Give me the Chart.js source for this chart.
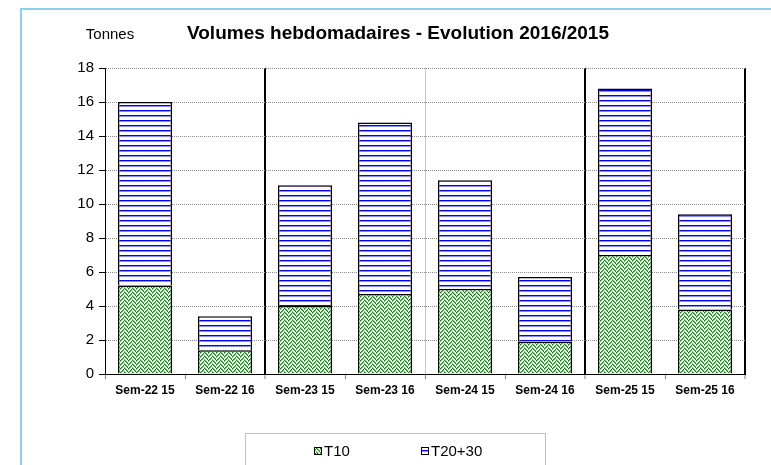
<!DOCTYPE html>
<html>
<head>
<meta charset="utf-8">
<script src="https://cdn.jsdelivr.net/npm/chart.js@4.4.1/dist/chart.umd.min.js"></script>
<style>
html, body { margin: 0; padding: 0; background: #fff; }
#wrap { width: 771px; height: 465px; }
</style>
</head>
<body>
<div id="wrap"><canvas id="volumes" width="771" height="465"></canvas></div>
<script>
// données
const semaines = ['Sem-22 15', 'Sem-22 16', 'Sem-23 15', 'Sem-23 16', 'Sem-24 15', 'Sem-24 16', 'Sem-25 15', 'Sem-25 16'];
const t10 = [5.2, 1.4, 4.0, 4.7, 5.0, 1.9, 7.0, 3.8];
const t2030 = [10.8, 2.0, 7.1, 10.1, 6.4, 3.8, 9.8, 5.6];
const yTicks = [0, 2, 4, 6, 8, 10, 12, 14, 16, 18];

const police = "'Liberation Sans', Arial, sans-serif";

// motif vert (chevrons)
function motifVert() {
    const c = document.createElement('canvas');
    c.width = 8; c.height = 8;
    const g = c.getContext('2d');
    g.fillStyle = '#ffffff';
    g.fillRect(0, 0, 8, 8);
    for (let y = 0; y < 8; y++) {
        for (let x = 0; x < 8; x++) {
            const k = x < 4 ? (x + y) % 4 : ((x - y) % 4 + 4) % 4;
            if (k === 0) { g.fillStyle = '#008f00'; g.fillRect(x, y, 1, 1); }
            else if (k === 1) { g.fillStyle = '#66c466'; g.fillRect(x, y, 1, 1); }
        }
    }
    return g.createPattern(c, 'repeat');
}

// motif bleu (rayures horizontales)
function motifBleu() {
    const c = document.createElement('canvas');
    c.width = 4; c.height = 5;
    const g = c.getContext('2d');
    g.fillStyle = '#ffffff';
    g.fillRect(0, 0, 4, 5);
    g.fillStyle = '#0000ff';
    g.fillRect(0, 0, 4, 1);
    g.fillStyle = '#8c8cff';
    g.fillRect(0, 1, 4, 1);
    return g.createPattern(c, 'repeat');
}

// cadre bleu clair + libellé "Tonnes"
const cadre = {
    id: 'cadre',
    beforeDraw(chart) {
        const ctx = chart.ctx;
        ctx.save();
        ctx.fillStyle = '#8ccfee';
        ctx.fillRect(20, 8, 751, 2);
        ctx.fillRect(20, 8, 2, 457);
        ctx.restore();
    },
    afterDraw(chart) {
        const ctx = chart.ctx;
        ctx.save();
        ctx.fillStyle = '#000';
        ctx.font = '15px ' + police;
        ctx.textAlign = 'center';
        ctx.textBaseline = 'middle';
        ctx.fillText('Tonnes', 110, 35);
        ctx.restore();
    }
};

// légende encadrée en bas
const legende = {
    id: 'legende',
    afterDraw(chart) {
        const ctx = chart.ctx;
        const xs = [314, 421];
        ctx.save();
        ctx.strokeStyle = '#c0c0c0';
        ctx.lineWidth = 1;
        ctx.strokeRect(245.5, 433.5, 300, 40);
        ctx.font = '15px ' + police;
        ctx.textBaseline = 'middle';
        chart.data.datasets.forEach((ds, i) => {
            ctx.fillStyle = ds.backgroundColor;
            ctx.fillRect(xs[i], 447, 8, 8);
            ctx.strokeStyle = '#000';
            ctx.strokeRect(xs[i] + 0.5, 447.5, 7, 7);
            ctx.fillStyle = '#000';
            ctx.fillText(ds.label, xs[i] + 10, 452);
        });
        ctx.restore();
    }
};

const separateurs = { 2: '#000000', 4: '#c8c8c8', 6: '#000000' };

new Chart(document.getElementById('volumes'), {
    type: 'bar',
    data: {
        labels: semaines,
        datasets: [
            {
                label: 'T10',
                data: t10,
                backgroundColor: motifVert(),
                borderColor: '#000',
                borderWidth: 1.5,
                categoryPercentage: 1,
                barPercentage: 0.675
            },
            {
                label: 'T20+30',
                data: t2030,
                backgroundColor: motifBleu(),
                borderColor: '#000',
                borderWidth: 1.5,
                categoryPercentage: 1,
                barPercentage: 0.675
            }
        ]
    },
    options: {
        responsive: false,
        animation: false,
        layout: { padding: { left: 51, right: 26, top: 0, bottom: 0 } },
        plugins: {
            legend: { display: false },
            tooltip: { enabled: false },
            title: {
                display: true,
                text: 'Volumes hebdomadaires - Evolution 2016/2015',
                color: '#000',
                font: { family: police, size: 19, weight: 'bold' },
                padding: { top: 22, bottom: 23.2 }
            }
        },
        scales: {
            x: {
                stacked: true,
                afterFit: s => { s.height = 91; },
                grid: {
                    offset: true,
                    color: c => c.index === undefined ? '#000000' : (separateurs[c.index] || 'rgba(0,0,0,0)'),
                    lineWidth: c => (c.index === undefined || c.index === 2 || c.index === 6) ? 2 : 1,
                    tickColor: '#808080',
                    tickWidth: 1,
                    tickLength: 5
                },
                border: { color: '#000', width: 1 },
                ticks: {
                    color: '#000',
                    font: { family: police, size: 12, weight: 'bold' },
                    padding: 4,
                    maxRotation: 0,
                    autoSkip: false
                }
            },
            y: {
                stacked: true,
                min: yTicks[0],
                max: yTicks[yTicks.length - 1],
                afterFit: s => { s.width = 54; },
                ticks: {
                    stepSize: yTicks[1] - yTicks[0],
                    color: '#000',
                    font: { family: police, size: 15 },
                    padding: 5
                },
                grid: { color: '#8c8c8c', tickColor: '#000', tickLength: 6 },
                border: { color: '#000', width: 1, dash: [1, 1] }
            }
        }
    },
    plugins: [cadre, legende]
});
</script>
</body>
</html>
